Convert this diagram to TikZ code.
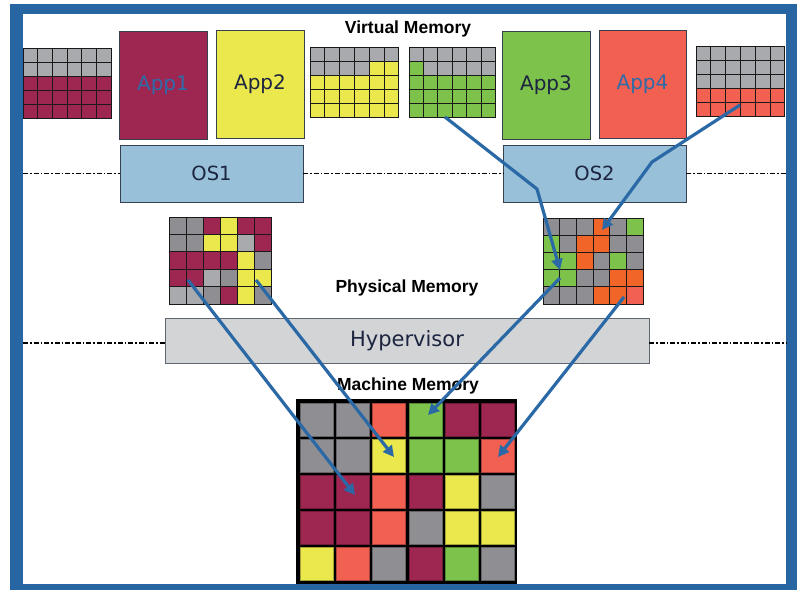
\documentclass[tikz,border=0pt]{standalone}
\usepackage{fontspec}
\setmainfont{DejaVu Sans}
\newfontfamily\headfont{Liberation Sans}
\usetikzlibrary{arrows.meta}

\definecolor{frameblue}{HTML}{2766A3}
\definecolor{pM}{HTML}{9E2752}
\definecolor{pY}{HTML}{EAE84C}
\definecolor{pG}{HTML}{7DC24B}
\definecolor{pR}{HTML}{F26052}
\definecolor{pO}{HTML}{F26529}
\definecolor{pK}{HTML}{8F8F93}
\definecolor{pL}{HTML}{A9AAAD}
\definecolor{osblue}{HTML}{98C0D8}
\definecolor{hvgray}{HTML}{D3D4D6}
\definecolor{arrowblue}{HTML}{2A68A6}
\definecolor{appblue}{HTML}{2E6BA8}
\definecolor{appdark}{HTML}{1C2440}
\definecolor{boxedge}{HTML}{36404E}

% page table / memory grid: x0, y0, cell width, cell height, rows of colours
\newcommand\memgrid[5]{%
  \foreach \memrow [count=\j from 0] in {#5}{%
    \foreach \memcell [count=\i from 0] in \memrow{%
      \filldraw[fill=\memcell, draw=black!90, line width=1pt]
        ({#1+\i*#3},{#2+\j*#4}) rectangle ++(#3,#4);
    }}}

% machine memory: cells inset in a black frame
\newcommand\machgrid[1]{%
  \foreach \memrow [count=\j from 0] in {#1}{%
    \foreach \memcell [count=\i from 0] in \memrow{%
      \filldraw[fill=\memcell, draw=\memcell!70!black, line width=0.8pt]
        ({300+\i*36.3},{403+\j*36.1}) rectangle ++(33,33);
    }}}

\tikzset{
  appbox/.style={draw=boxedge, line width=1pt, minimum width=88pt,
    minimum height=108pt, inner sep=0pt, outer sep=0pt,
    font=\fontsize{20}{23}\selectfont},
  osbox/.style={draw=boxedge, fill=osblue, line width=1pt, minimum width=183pt,
    minimum height=57pt, inner sep=0pt, outer sep=0pt, text=appdark,
    font=\fontsize{19.5}{22}\selectfont},
  hvbox/.style={draw=boxedge!80, fill=hvgray, line width=1pt, minimum width=484pt,
    minimum height=45pt, inner sep=0pt, outer sep=0pt, text=appdark,
    font=\fontsize{21}{24}\selectfont},
  layerlabel/.style={font=\headfont\bfseries\fontsize{17.5}{20}\selectfont},
  dashdot/.style={line width=1.5pt, dash pattern=on 5pt off 2pt on 1.5pt off 2pt},
  mapping/.style={draw=arrowblue, line width=3.2pt, line join=round,
    -{Triangle[length=11pt,width=11pt]}}
}

\begin{document}
\begin{tikzpicture}[x=1pt,y=-1pt]
\useasboundingbox (0,0) rectangle (797,590);

% frame
\fill[frameblue] (10,4) rectangle (797,590);
\fill[white] (23,14) rectangle (786,584);

% layer captions
\node[layerlabel] (vmem) at (408,29) {Virtual Memory};
\node[layerlabel] (pmem) at (407,288) {Physical Memory};

% guest page tables
\memgrid{23}{48}{14.67}{14}{{pL,pL,pL,pL,pL,pL},{pL,pL,pL,pL,pL,pL},{pM,pM,pM,pM,pM,pM},{pM,pM,pM,pM,pM,pM},{pM,pM,pM,pM,pM,pM}}
\memgrid{310}{47}{14.8}{14}{{pL,pL,pL,pL,pL,pL},{pL,pL,pL,pL,pY,pY},{pY,pY,pY,pY,pY,pY},{pY,pY,pY,pY,pY,pY},{pY,pY,pY,pY,pY,pY}}
\memgrid{409}{47}{14.4}{14}{{pL,pL,pL,pL,pL,pL},{pG,pL,pL,pL,pL,pL},{pG,pG,pG,pG,pG,pG},{pG,pG,pG,pG,pG,pG},{pG,pG,pG,pG,pG,pG}}
\memgrid{696}{46}{14.8}{14}{{pL,pL,pL,pL,pL,pL},{pL,pL,pL,pL,pL,pL},{pL,pL,pL,pL,pL,pL},{pR,pR,pR,pR,pR,pR},{pR,pR,pR,pR,pR,pR}}

% applications
\node[appbox, fill=pM, text=appblue] (app1) at (163,85) {App1};
\node[appbox, fill=pY, text=appdark] (app2) at (260,84.5) {App2};
\node[appbox, fill=pG, text=appdark] (app3) at (546,85) {App3};
\node[appbox, fill=pR, text=appblue, minimum width=87pt] (app4) at (642.5,84.5) {App4};

% guest operating systems
\node[osbox] (os1) at (211.5,173.5) {OS1};
\node[osbox] (os2) at (594.5,173.5) {OS2};
\coordinate (gl) at (23,173.5);
\coordinate (gr) at (786,173.5);
\draw[dashdot] (gl) -- (os1.west);
\draw[dashdot] (os1.east) -- (os2.west);
\draw[dashdot] (os2.east) -- (gr);

% physical memory of each guest
\memgrid{169}{217}{17}{17.4}{{pK,pK,pM,pY,pM,pM},{pK,pK,pY,pY,pL,pM},{pM,pM,pM,pM,pY,pK},{pM,pM,pL,pK,pY,pY},{pL,pL,pK,pM,pY,pK}}
\memgrid{543}{218}{16.67}{17.2}{{pK,pK,pK,pO,pK,pG},{pG,pK,pO,pO,pK,pK},{pG,pG,pO,pK,pG,pK},{pG,pG,pK,pK,pO,pO},{pK,pK,pK,pO,pO,pR}}

% hypervisor
\node[hvbox] (hv) at (407,340.5) {Hypervisor};
\coordinate (hl) at (23,343);
\coordinate (hr) at (786,343);
\draw[dashdot] (hl) -- (hl -| hv.west);
\draw[dashdot] (hr -| hv.east) -- (hr);

\node[layerlabel] (mmem) at (408,386) {Machine Memory};

% machine memory
\fill[black] (296,399) rectangle (517,584);
\machgrid{{pK,pK,pR,pG,pM,pM},{pK,pK,pY,pG,pG,pR},{pM,pM,pR,pM,pY,pK},{pM,pM,pR,pK,pY,pY},{pY,pR,pK,pM,pG,pK}}

% address mappings
\coordinate (s1) at (445,117);  \coordinate (b1) at (537,189);  \coordinate (e1) at (560,270);
\coordinate (s2) at (740,105);  \coordinate (b2) at (652,162);  \coordinate (e2) at (602,230);
\coordinate (s3) at (188,280);  \coordinate (e3) at (355,495);
\coordinate (s4) at (256,280);  \coordinate (e4) at (394,457);
\coordinate (s5) at (560,278);  \coordinate (e5) at (428,415);
\coordinate (s6) at (624,297);  \coordinate (e6) at (498,457);
\draw[mapping] (s1) -- (b1) -- (e1);
\draw[mapping] (s2) -- (b2) -- (e2);
\draw[mapping] (s3) -- (e3);
\draw[mapping] (s4) -- (e4);
\draw[mapping] (s5) -- (e5);
\draw[mapping] (s6) -- (e6);
\end{tikzpicture}
\end{document}
